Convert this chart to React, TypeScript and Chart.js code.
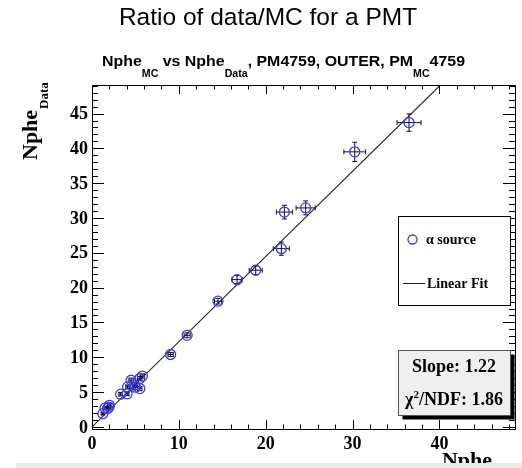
import React, { useEffect, useRef } from "react";
import { Chart, registerables } from "chart.js";

Chart.register(...registerables);

const TITLE = "Ratio of data/MC for a PMT";
const LEGEND_POINTS = "α source";
const LEGEND_FIT = "Linear Fit";
const FIT_SLOPE = 1.224;
const SLOPE_LABEL = "1.22";
const CHI2_LABEL = "1.86";

const xValues = [1.25, 1.5, 1.8, 1.95, 2.0, 3.3, 4.05, 4.1, 4.5, 4.9, 5.0, 5.5, 5.5, 5.8, 9.05, 10.95, 14.5, 16.7, 18.85, 21.8, 22.15, 24.6, 30.25, 36.5];
const yValues = [1.9, 2.7, 2.65, 2.85, 3.1, 4.7, 4.75, 5.75, 6.7, 6.0, 5.7, 5.5, 6.95, 7.3, 10.4, 13.15, 18.05, 21.15, 22.5, 25.6, 30.85, 31.45, 39.5, 43.7];
const xErrors = [0.12, 0.15, 0.15, 0.15, 0.15, 0.2, 0.2, 0.2, 0.25, 0.25, 0.25, 0.25, 0.25, 0.25, 0.3, 0.35, 0.4, 0.6, 0.75, 0.92, 0.92, 1.1, 1.25, 1.38];
const yErrors = [0.15, 0.2, 0.2, 0.2, 0.2, 0.25, 0.25, 0.25, 0.3, 0.3, 0.3, 0.3, 0.3, 0.3, 0.3, 0.35, 0.4, 0.6, 0.6, 0.95, 0.98, 1.0, 1.38, 1.25];

const X_MIN = 0;
const X_MAX = 48.7;
const Y_MIN = -0.3;
const Y_MAX = 49.1;
const xTickLabels = [0, 10, 20, 30, 40];
const yTickLabels = [0, 5, 10, 15, 20, 25, 30, 35, 40, 45];

const BLUE = "rgb(58,58,235)";
const SERIF = '"Liberation Serif", "Times New Roman", serif';
const SANS = '"Liberation Sans", Arial, sans-serif';

const decorPlugin = {
  id: "decor",
  beforeDatasetsDraw(chart: any) {
    const ctx = chart.ctx;
    const xs = chart.scales.x;
    const ys = chart.scales.y;
    ctx.save();
    ctx.strokeStyle = "#111";
    ctx.lineWidth = 1;
    for (let i = 0; i < xValues.length; i++) {
      const px = xs.getPixelForValue(xValues[i]);
      const py = ys.getPixelForValue(yValues[i]);
      const x1 = xs.getPixelForValue(xValues[i] - xErrors[i]);
      const x2 = xs.getPixelForValue(xValues[i] + xErrors[i]);
      const y1 = ys.getPixelForValue(yValues[i] - yErrors[i]);
      const y2 = ys.getPixelForValue(yValues[i] + yErrors[i]);
      ctx.beginPath();
      ctx.moveTo(x1, py);
      ctx.lineTo(x2, py);
      ctx.moveTo(px, y1);
      ctx.lineTo(px, y2);
      ctx.moveTo(x1, py - 2.5);
      ctx.lineTo(x1, py + 2.5);
      ctx.moveTo(x2, py - 2.5);
      ctx.lineTo(x2, py + 2.5);
      ctx.moveTo(px - 2.5, y1);
      ctx.lineTo(px + 2.5, y1);
      ctx.moveTo(px - 2.5, y2);
      ctx.lineTo(px + 2.5, y2);
      ctx.stroke();
    }
    ctx.restore();
  },
  afterDraw(chart: any) {
    const ctx = chart.ctx;
    const xs = chart.scales.x;
    const ys = chart.scales.y;
    const a = chart.chartArea;
    ctx.save();
    // frame
    ctx.strokeStyle = "#000";
    ctx.lineWidth = 1;
    ctx.strokeRect(Math.round(a.left) + 0.5, Math.round(a.top) + 0.5, Math.round(a.right - a.left), Math.round(a.bottom - a.top));
    // ticks
    ctx.beginPath();
    for (let v = 0; v <= X_MAX; v += 2) {
      const px = Math.round(xs.getPixelForValue(v)) + 0.5;
      const len = v % 10 === 0 ? 9 : 4.5;
      ctx.moveTo(px, a.bottom);
      ctx.lineTo(px, a.bottom - len);
      ctx.moveTo(px, a.top);
      ctx.lineTo(px, a.top + len);
    }
    for (let v = 0; v <= Y_MAX; v += 1) {
      const py = Math.round(ys.getPixelForValue(v)) + 0.5;
      const len = v % 5 === 0 ? 12 : 6;
      ctx.moveTo(a.left, py);
      ctx.lineTo(a.left + len, py);
      ctx.moveTo(a.right, py);
      ctx.lineTo(a.right - len, py);
    }
    ctx.stroke();
    // tick labels
    ctx.fillStyle = "#000";
    ctx.font = `bold 18px ${SERIF}`;
    ctx.textAlign = "center";
    ctx.textBaseline = "alphabetic";
    for (const v of xTickLabels) {
      ctx.fillText(String(v), xs.getPixelForValue(v), 449);
    }
    ctx.textAlign = "right";
    ctx.textBaseline = "middle";
    for (const v of yTickLabels) {
      ctx.fillText(String(v), 88, ys.getPixelForValue(v) + 1);
    }
    // main title
    ctx.textAlign = "center";
    ctx.textBaseline = "alphabetic";
    ctx.font = `24.5px ${SANS}`;
    ctx.fillText(TITLE, 268, 25);
    // subtitle with subscripts
    const parts: [string, boolean][] = [
      ["Nphe", false], ["MC", true], [" vs Nphe", false], ["Data", true],
      [", PM4759, OUTER, PM", false], ["MC", true], ["4759", false],
    ];
    const mainF = `bold 15px ${SANS}`;
    const subF = `bold 10px ${SANS}`;
    let total = 0;
    for (const [t, s] of parts) {
      ctx.font = s ? subF : mainF;
      total += ctx.measureText(t).width;
    }
    const targetW = 363;
    const sxScale = targetW / total;
    ctx.save();
    ctx.translate(102, 0);
    ctx.scale(sxScale, 1);
    let cx = 0;
    ctx.textAlign = "left";
    for (const [t, s] of parts) {
      ctx.font = s ? subF : mainF;
      ctx.fillText(t, cx, s ? 77 : 66);
      cx += ctx.measureText(t).width;
    }
    ctx.restore();
    // y axis title (rotated)
    ctx.save();
    ctx.translate(37, 160);
    ctx.rotate(-Math.PI / 2);
    ctx.textAlign = "left";
    ctx.textBaseline = "alphabetic";
    ctx.font = `bold 22px ${SERIF}`;
    ctx.fillText("Nphe", 0, 0);
    const w = ctx.measureText("Nphe").width;
    ctx.font = `bold 13px ${SERIF}`;
    ctx.fillText("Data", w + 1, 11);
    ctx.restore();
    // x axis title
    ctx.font = `bold 22px ${SERIF}`;
    ctx.textAlign = "right";
    ctx.textBaseline = "alphabetic";
    ctx.fillText("Nphe", 492, 467);
    // legend box
    ctx.fillStyle = "#fff";
    ctx.fillRect(398.5, 216.5, 112, 89);
    ctx.strokeStyle = "#000";
    ctx.strokeRect(398.5, 216.5, 112, 89);
    ctx.strokeStyle = BLUE;
    ctx.lineWidth = 1.3;
    ctx.beginPath();
    ctx.arc(412.5, 239.5, 4.5, 0, Math.PI * 2);
    ctx.stroke();
    ctx.strokeStyle = "#222";
    ctx.lineWidth = 1;
    ctx.beginPath();
    ctx.moveTo(403, 283.5);
    ctx.lineTo(425, 283.5);
    ctx.stroke();
    ctx.fillStyle = "#000";
    ctx.textAlign = "left";
    ctx.textBaseline = "middle";
    ctx.font = `bold 14px ${SERIF}`;
    ctx.fillText(LEGEND_POINTS, 426, 240);
    ctx.fillText(LEGEND_FIT, 427, 284);
    // stats box with shadow
    ctx.fillStyle = "#000";
    ctx.fillRect(402.5, 354.5, 112, 65);
    ctx.fillStyle = "#efefef";
    ctx.fillRect(398.5, 350.5, 112, 65);
    ctx.strokeStyle = "#555";
    ctx.strokeRect(398.5, 350.5, 112, 65);
    ctx.fillStyle = "#000";
    ctx.textAlign = "center";
    ctx.font = `bold 18px ${SERIF}`;
    ctx.fillText(`Slope: ${SLOPE_LABEL}`, 454, 367);
    const p1 = "χ";
    const p2 = "2";
    const p3 = `/NDF: ${CHI2_LABEL}`;
    ctx.font = `bold 18px ${SERIF}`;
    const w1 = ctx.measureText(p1).width;
    const w3 = ctx.measureText(p3).width;
    ctx.font = `bold 11px ${SERIF}`;
    const w2 = ctx.measureText(p2).width;
    let sx = 454 - (w1 + w2 + w3) / 2;
    ctx.textAlign = "left";
    ctx.textBaseline = "alphabetic";
    ctx.font = `bold 18px ${SERIF}`;
    ctx.fillText(p1, sx, 405);
    sx += w1;
    ctx.font = `bold 11px ${SERIF}`;
    ctx.fillText(p2, sx, 398);
    sx += w2;
    ctx.font = `bold 18px ${SERIF}`;
    ctx.fillText(p3, sx, 405);
    // bottom gray strip
    ctx.fillStyle = "#e9e9e9";
    ctx.fillRect(16, 463, 506, 5);
    ctx.restore();
  },
};

export default function App() {
  const ref = useRef<HTMLCanvasElement | null>(null);
  useEffect(() => {
    if (!ref.current) return;
    const points = xValues.map((x, i) => ({ x, y: yValues[i] }));
    const fitEnd = Y_MAX / FIT_SLOPE;
    const fitLine = [
      { x: 0, y: 0 },
      { x: fitEnd, y: FIT_SLOPE * fitEnd },
    ];
    const chart = new Chart(ref.current, {
      type: "scatter",
      data: {
        datasets: [
          {
            label: LEGEND_FIT,
            type: "line",
            data: fitLine,
            borderColor: "#222",
            borderWidth: 1.1,
            pointRadius: 0,
            fill: false,
            order: 2,
          } as any,
          {
            label: LEGEND_POINTS,
            data: points,
            pointStyle: "circle",
            pointRadius: 5,
            pointBorderColor: BLUE,
            pointBackgroundColor: "rgba(0,0,0,0)",
            pointBorderWidth: 1.3,
            borderColor: BLUE,
            backgroundColor: "rgba(0,0,0,0)",
            order: 1,
          },
        ],
      },
      options: {
        animation: false,
        responsive: false,
        devicePixelRatio: 1,
        layout: { padding: { left: 92, right: 7, top: 85, bottom: 39 } },
        scales: {
          x: { type: "linear", min: X_MIN, max: X_MAX, display: false },
          y: { type: "linear", min: Y_MIN, max: Y_MAX, display: false },
        },
        plugins: {
          legend: { display: false },
          title: { display: false },
          tooltip: { enabled: false },
        },
      },
      plugins: [decorPlugin],
    });
    return () => chart.destroy();
  }, []);
  return (
    <div style={{ position: "fixed", left: 0, top: 0, width: 522, height: 468, background: "#fff" }}>
      <canvas ref={ref} width={522} height={468} style={{ width: 522, height: 468, display: "block" }} />
    </div>
  );
}
